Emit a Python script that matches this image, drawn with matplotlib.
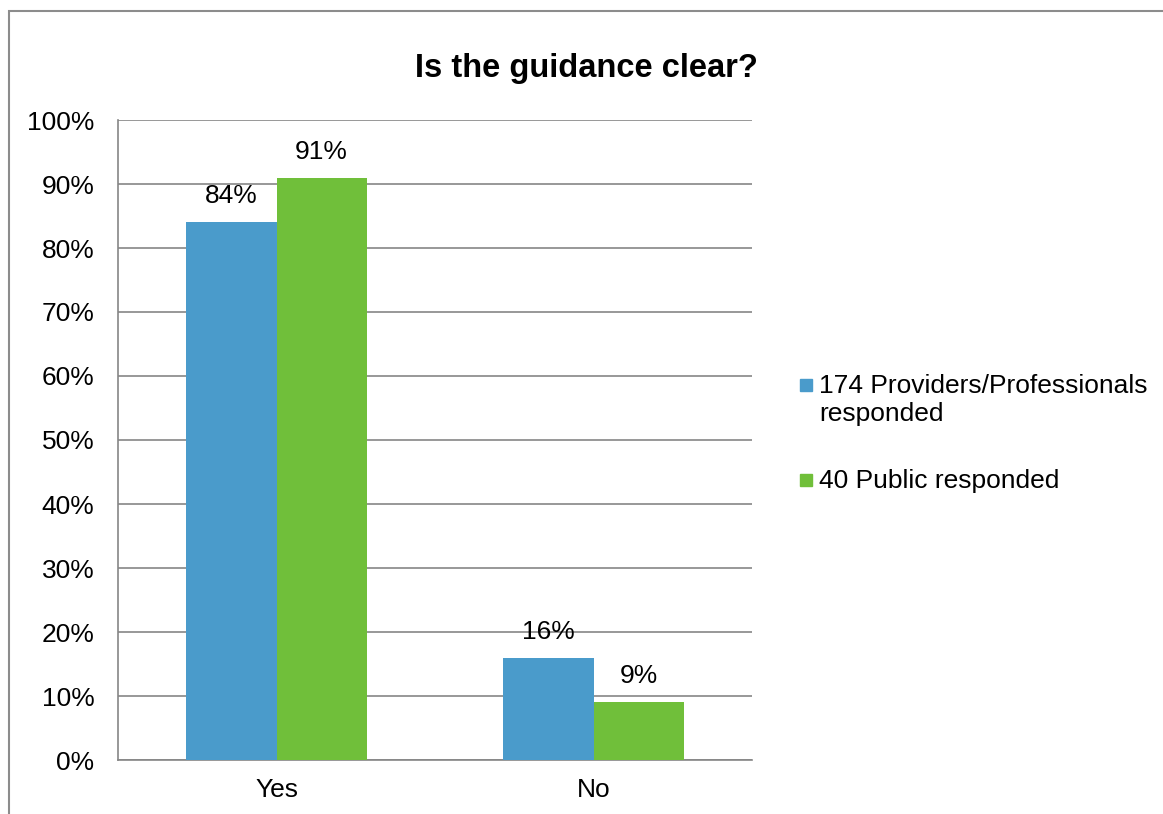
import numpy as np
import matplotlib.pyplot as plt
from matplotlib.patches import Rectangle

categories = ["Yes", "No"]
series_names = ["174 Providers/Professionals\nresponded", "40 Public responded"]
providers = [84, 16]
public = [91, 9]
colors = ["#4A9BCB", "#70BF3A"]

plt.rcParams["font.family"] = ["Liberation Sans", "DejaVu Sans"]

fig = plt.figure(figsize=(11.63, 8.14), dpi=100)
W, H = 1163, 814

# outer chart frame (runs off the right and bottom edges)
fig.patches.append(Rectangle((9 / W, -0.1), 1.2, 1 - 11 / H + 0.1, transform=fig.transFigure,
                             fill=False, edgecolor="#8c8c8c", linewidth=1.5))

ax = fig.add_axes([118 / W, 1 - 760 / H, (752 - 118) / W, (760 - 120) / H])

x = np.arange(len(categories))
width = 0.285
grid_color = "#868686"

for i, (vals, name) in enumerate(zip([providers, public], series_names)):
    offs = (i - 0.5) * width
    bars = ax.bar(x + offs, vals, width, color=colors[i], label=name, zorder=3)
    for b, v in zip(bars, vals):
        ax.text(b.get_x() + b.get_width() / 2, v + 2.2, f"{v}%", ha="center", va="bottom",
                fontsize=19, color="#000000")

ax.set_xlim(-0.5, 1.5)
ax.set_ylim(0, 100)
ax.set_yticks(range(0, 101, 10))
ax.set_yticklabels([f"{t}%" for t in range(0, 101, 10)], fontsize=19)
ax.set_xticks(x)
ax.set_xticklabels(categories, fontsize=19)
ax.tick_params(axis="both", length=0)
ax.tick_params(axis="y", pad=17)
ax.tick_params(axis="x", pad=13)

ax.yaxis.grid(True, color=grid_color, linewidth=1.2, zorder=0)
for s in ["top", "right"]:
    ax.spines[s].set_visible(False)
for s in ["left", "bottom"]:
    ax.spines[s].set_color(grid_color)
    ax.spines[s].set_linewidth(1.2)

fig.text(586 / W, 1 - 68 / H, "Is the guidance clear?", ha="center", va="center",
         fontsize=23.5, fontweight="bold")

# legend: square key aligned with the first line of each label
legend_rows = [385, 480]
for c, name, yc in zip(colors, series_names, legend_rows):
    fig.patches.append(Rectangle((800 / W, 1 - (yc + 6) / H), 12 / W, 12 / H,
                                 transform=fig.transFigure, color=c))
    fig.text(819 / W, 1 - (yc - 11) / H, name, ha="left", va="top", fontsize=19,
             linespacing=1.23)

fig.savefig("out.png", dpi=100)
